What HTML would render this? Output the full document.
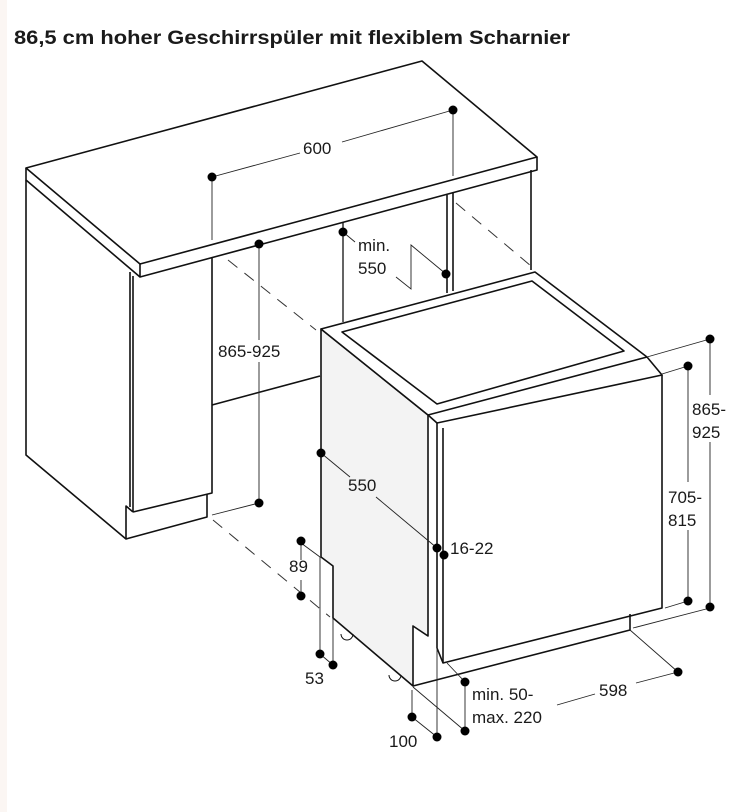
<!DOCTYPE html>
<html><head><meta charset="utf-8"><style>
html,body{margin:0;padding:0;background:#fff;}
svg{display:block;}
text{font-family:"Liberation Sans",Arial,sans-serif;fill:#1a1a1a;}
</style></head><body>
<svg width="737" height="812" viewBox="0 0 737 812" xmlns="http://www.w3.org/2000/svg">
<rect width="737" height="812" fill="#fff"/>
<rect x="0" y="0" width="7" height="812" fill="#fbf6f3"/>
<text x="14" y="44" font-size="19" font-weight="bold" textLength="556" lengthAdjust="spacingAndGlyphs">86,5 cm hoher Geschirrspüler mit flexiblem Scharnier</text>

<g fill="none" stroke="#111" stroke-width="1.6" stroke-linejoin="round">
<polygon points="26,168 422,61 537,157 140,264" fill="#fff"/>
<polyline points="26,168 26,180 140,277 537,170 537,157"/>
<line x1="140" y1="264" x2="140" y2="277"/>
<polyline points="26,180 26,455 126,539 207,517 207,494"/>
<polyline points="126,539 126,506 133,512"/>
<line x1="130" y1="272" x2="130" y2="507"/>
<line x1="133" y1="276" x2="133" y2="512"/>
<polyline points="133,512 212,493 212,257"/>
<line x1="212" y1="405" x2="320" y2="376"/>
<line x1="447" y1="195" x2="447" y2="293"/>
<line x1="453" y1="193" x2="453" y2="291"/>
<line x1="531" y1="170" x2="531" y2="270"/>
<line x1="343" y1="222" x2="343" y2="322" stroke-width="1.3"/>
</g>

<g stroke="#333" stroke-width="1" stroke-dasharray="12,9" fill="none">
<line x1="228" y1="260" x2="316" y2="330"/>
<line x1="456" y1="203" x2="531" y2="266"/>
<line x1="213" y1="520" x2="330" y2="617"/>
</g>

<g fill="none" stroke="#111" stroke-width="1.6" stroke-linejoin="round">
<polygon points="321,329 428,415 428,636 413,626 413,686 333,618 333,566 321,557" fill="#f3f3f3"/>
<polygon points="321,329 535,272 647,357 428,415" fill="#fff"/>
<polygon points="342,332 532,281 624,351 437,404"/>
<polyline points="428,415 437,423 662,375 647,357"/>
<polyline points="437,423 437,648 443,663 662,608 662,375"/>
<line x1="443" y1="428" x2="443" y2="663"/>
<polyline points="413,686 630,630 630,614"/>
<path d="M341,634 a6,6 0 0 0 12,0" stroke-width="1"/>
<path d="M389,675 a6,6 0 0 0 12,0" stroke-width="1"/>
</g>

<g stroke="#222" stroke-width="0.9" fill="none">
<line x1="212" y1="177" x2="212" y2="240"/>
<line x1="453" y1="110" x2="453" y2="176"/>
<line x1="212" y1="177" x2="300" y2="153"/>
<line x1="342" y1="142" x2="453" y2="110"/>
<line x1="259" y1="244" x2="259" y2="340"/>
<line x1="259" y1="362" x2="259" y2="503"/>
<line x1="259" y1="503" x2="212" y2="515"/>
<line x1="343" y1="232" x2="355" y2="242"/>
<polyline points="396,277 411,289 411,245 446,274"/>
<line x1="321" y1="453" x2="350" y2="477"/>
<line x1="376" y1="497" x2="437" y2="548"/>
<line x1="301" y1="541" x2="301" y2="560"/>
<line x1="301" y1="580" x2="301" y2="596"/>
<line x1="301" y1="543" x2="320" y2="557"/>
<line x1="320" y1="557" x2="320" y2="654"/>
<line x1="333" y1="618" x2="333" y2="665"/>
<line x1="320" y1="654" x2="333" y2="665"/>
<line x1="412" y1="690" x2="412" y2="717"/>
<line x1="437" y1="648" x2="437" y2="737"/>
<line x1="412" y1="717" x2="437" y2="737"/>
<line x1="465" y1="682" x2="465" y2="731"/>
<line x1="447" y1="663" x2="465" y2="682"/>
<line x1="413" y1="687" x2="465" y2="731"/>
<line x1="630" y1="630" x2="678" y2="672"/>
<line x1="678" y1="672" x2="636" y2="683"/>
<line x1="595" y1="694" x2="557" y2="705"/>
<line x1="647" y1="357" x2="710" y2="339"/>
<line x1="633" y1="628" x2="710" y2="608"/>
<line x1="710" y1="339" x2="710" y2="395"/>
<line x1="710" y1="442" x2="710" y2="607"/>
<line x1="662" y1="374" x2="688" y2="366"/>
<line x1="665" y1="608" x2="688" y2="601"/>
<line x1="688" y1="366" x2="688" y2="482"/>
<line x1="688" y1="530" x2="688" y2="601"/>
</g>

<g fill="#000">
<circle cx="212" cy="177" r="4.5"/><circle cx="453" cy="110" r="4.5"/>
<circle cx="259" cy="244" r="4.5"/><circle cx="259" cy="503" r="4.5"/>
<circle cx="343" cy="232" r="4.5"/><circle cx="446" cy="274" r="4.5"/>
<circle cx="321" cy="453" r="4.5"/><circle cx="437" cy="548" r="4.5"/><circle cx="444" cy="555" r="4.5"/>
<circle cx="301" cy="541" r="4.5"/><circle cx="301" cy="596" r="4.5"/>
<circle cx="320" cy="654" r="4.5"/><circle cx="333" cy="665" r="4.5"/>
<circle cx="412" cy="717" r="4.5"/><circle cx="437" cy="737" r="4.5"/>
<circle cx="465" cy="682" r="4.5"/><circle cx="465" cy="731" r="4.5"/>
<circle cx="678" cy="672" r="4.5"/>
<circle cx="710" cy="339" r="4.5"/><circle cx="710" cy="607" r="4.5"/>
<circle cx="688" cy="366" r="4.5"/><circle cx="688" cy="601" r="4.5"/>
</g>

<g font-size="17">
<text x="303" y="154">600</text>
<text x="218" y="357">865-925</text>
<text x="358" y="251">min.</text>
<text x="358" y="274">550</text>
<text x="348" y="491">550</text>
<text x="450" y="554">16-22</text>
<text x="289" y="572">89</text>
<text x="305" y="684">53</text>
<text x="389" y="747">100</text>
<text x="472" y="700">min. 50-</text>
<text x="472" y="723">max. 220</text>
<text x="599" y="696">598</text>
<text x="692" y="415">865-</text>
<text x="692" y="438">925</text>
<text x="668" y="503">705-</text>
<text x="668" y="526">815</text>
</g>
</svg>
</body></html>
